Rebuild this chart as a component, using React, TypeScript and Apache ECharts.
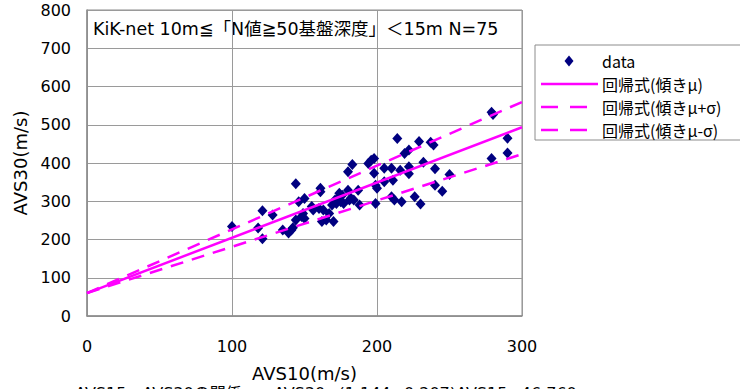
import React, { useEffect, useRef } from "react";
import * as echarts from "echarts";

const titleText = "KiK-net 10m≦「N値≧50基盤深度」＜15m N=75";
const captionText = "AVS15 - AVS30の関係　　AVS30=(1.144±0.207)AVS15+46.760";
const xName = "AVS10(m/s)";
const yName = "AVS30(m/s)";
const xTicks = { min: 0, max: 300, interval: 100 };
const yTicks = { min: 0, max: 800, interval: 100 };

const seriesNames = ["data", "回帰式(傾きμ)", "回帰式(傾きμ+σ)", "回帰式(傾きμ-σ)"];

const dataPoints: [number, number][] = [
  [100, 234], [118, 230], [121, 275], [121, 202], [128, 264], [135, 225],
  [139, 217], [141, 225], [142, 231], [144, 346], [144, 251], [146, 299],
  [148, 260], [149, 268], [150, 307], [150, 255], [155, 286], [156, 277],
  [160, 281], [161, 334], [161, 325], [162, 247], [163, 277], [165, 251],
  [167, 268], [169, 290], [170, 247], [171, 303], [172, 294], [174, 312],
  [174, 321], [175, 299], [176, 316], [177, 294], [180, 377], [183, 396],
  [180, 329], [181, 303], [182, 308], [184, 303], [187, 329], [188, 290],
  [194, 399], [196, 407], [198, 412], [198, 373], [199, 342], [200, 334],
  [199, 294], [205, 386], [205, 351], [210, 386], [211, 355], [210, 312],
  [212, 303], [214, 464], [216, 381], [217, 299], [219, 425], [222, 434],
  [222, 390], [222, 372], [226, 312], [229, 456], [230, 293], [232, 402],
  [237, 454], [239, 447], [240, 385], [240, 342], [245, 326], [250, 370],
  [279, 533], [280, 527], [279, 412], [290, 465], [290, 426],
];

const intercept = 60;
const slopeMu = 1.445;
const slopeMuPlus = 1.665;
const slopeMuMinus = 1.21;
const lineXs = [0, 300];

const lineData = (slope: number) => lineXs.map((x) => [x, intercept + slope * x]);

export default function App() {
  const ref = useRef<HTMLDivElement>(null);
  useEffect(() => {
    if (!ref.current) return;
    const chart = echarts.init(ref.current, undefined, { renderer: "svg" });
    const font = "DejaVu Sans, Noto Sans CJK JP, sans-serif";
    const legendFont = "Noto Sans CJK JP, sans-serif";
    const magenta = "#FF00FF";
    const navy = "#000080";
    const dash = [13, 9];
    const rows = [61, 84, 107, 130];
    const lx0 = 541;
    const lx1 = 598;
    const tx = 602;

    const legendGraphics: any[] = [
      {
        type: "rect",
        shape: { x: 535, y: 45, width: 230, height: 95 },
        style: { fill: "#fff", stroke: "#8c8c8c", lineWidth: 1 },
        z: 10,
      },
      {
        type: "polygon",
        shape: {
          points: [
            [569, rows[0] - 5.5],
            [573.5, rows[0]],
            [569, rows[0] + 5.5],
            [564.5, rows[0]],
          ],
        },
        style: { fill: navy },
        z: 11,
      },
      {
        type: "line",
        shape: { x1: lx0, y1: rows[1], x2: lx1, y2: rows[1] },
        style: { stroke: magenta, lineWidth: 2.5 },
        z: 11,
      },
      {
        type: "line",
        shape: { x1: lx0, y1: rows[2], x2: 590, y2: rows[2] },
        style: { stroke: magenta, lineWidth: 2.5, lineDash: [17, 12] },
        z: 11,
      },
      {
        type: "line",
        shape: { x1: lx0, y1: rows[3], x2: 590, y2: rows[3] },
        style: { stroke: magenta, lineWidth: 2.5, lineDash: [17, 12] },
        z: 11,
      },
      ...seriesNames.map((n, i) => ({
        type: "text",
        x: tx,
        y: rows[i],
        style: {
          text: n,
          fontFamily: legendFont,
          fontSize: 16,
          fill: "#000",
          verticalAlign: "middle",
          align: "left",
        },
        z: 11,
      })),
    ];

    chart.setOption({
      animation: false,
      backgroundColor: "#ffffff",
      grid: {
        left: 87,
        top: 10,
        width: 435,
        height: 306,
        show: true,
        borderColor: "#8c8c8c",
        borderWidth: 1,
        backgroundColor: "transparent",
      },
      xAxis: {
        type: "value",
        ...xTicks,
        name: xName,
        nameLocation: "middle",
        nameGap: 48,
        nameTextStyle: { fontFamily: font, fontSize: 18, color: "#000" },
        axisLine: { show: true, lineStyle: { color: "#8c8c8c", width: 1.5 } },
        axisTick: { show: false },
        axisLabel: { margin: 22, fontFamily: font, fontSize: 16, color: "#000" },
        splitLine: { show: true, lineStyle: { color: "#9a9a9a", width: 1 } },
      },
      yAxis: {
        type: "value",
        ...yTicks,
        name: yName,
        nameLocation: "middle",
        nameGap: 57,
        nameTextStyle: { fontFamily: font, fontSize: 18, color: "#000" },
        axisLine: { show: true, lineStyle: { color: "#8c8c8c", width: 1.5 } },
        axisTick: { show: false },
        axisLabel: { margin: 16, fontFamily: font, fontSize: 16, color: "#000" },
        splitLine: { show: true, lineStyle: { color: "#9a9a9a", width: 1 } },
      },
      graphic: [
        {
          type: "text",
          left: 93,
          top: 20,
          style: { text: titleText, fontFamily: font, fontSize: 17.5, fill: "#000" },
        },
        {
          type: "text",
          left: 75,
          top: 385,
          style: { text: captionText, fontFamily: font, fontSize: 16, fill: "#000" },
        },
        ...legendGraphics,
      ],
      series: [
        {
          name: seriesNames[0],
          type: "scatter",
          symbol: "diamond",
          symbolSize: [10, 11],
          itemStyle: { color: navy, opacity: 1 },
          data: dataPoints,
          z: 3,
        },
        {
          name: seriesNames[1],
          type: "line",
          symbol: "none",
          lineStyle: { color: magenta, width: 2.5, type: "solid" },
          itemStyle: { color: magenta },
          data: lineData(slopeMu),
          z: 4,
        },
        {
          name: seriesNames[2],
          type: "line",
          symbol: "none",
          lineStyle: { color: magenta, width: 2.5, type: dash },
          itemStyle: { color: magenta },
          data: lineData(slopeMuPlus),
          z: 4,
        },
        {
          name: seriesNames[3],
          type: "line",
          symbol: "none",
          lineStyle: { color: magenta, width: 2.5, type: dash },
          itemStyle: { color: magenta },
          data: lineData(slopeMuMinus),
          z: 4,
        },
      ],
    });
    return () => chart.dispose();
  }, []);
  return <div ref={ref} style={{ width: 740, height: 389, position: "fixed", left: 0, top: 0 }} />;
}
